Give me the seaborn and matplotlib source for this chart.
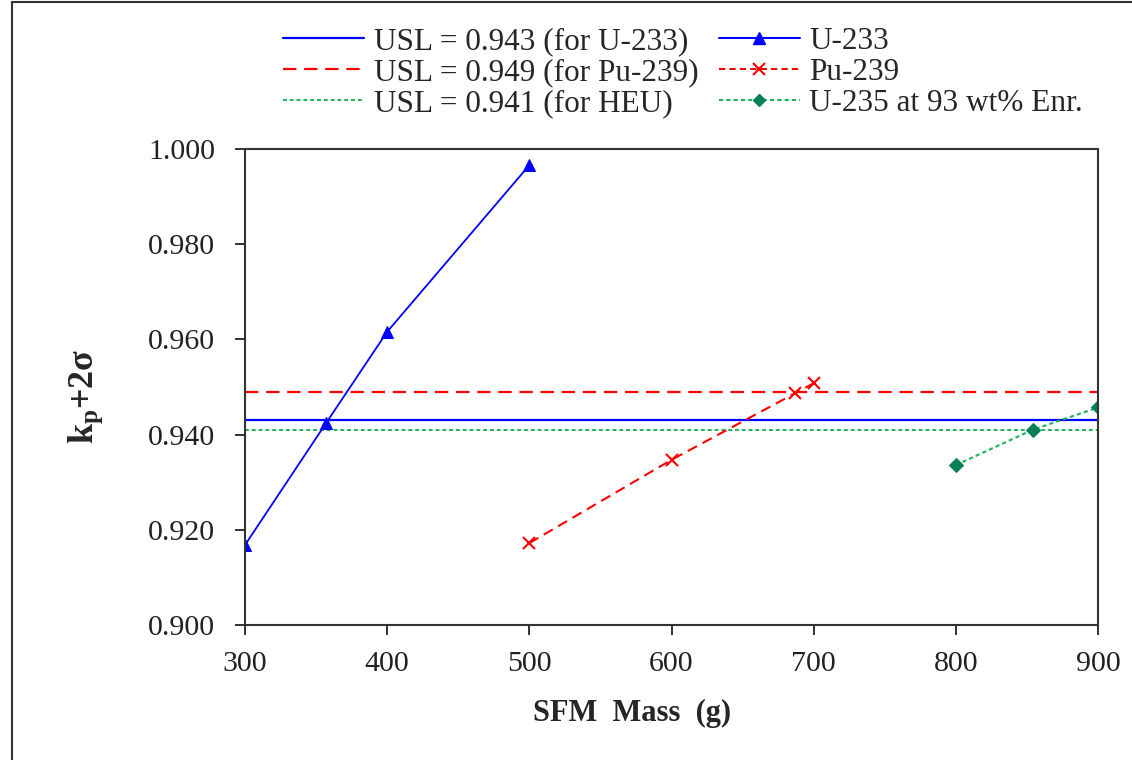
import matplotlib

matplotlib.use("Agg")

import matplotlib.pyplot as plt
import pandas as pd
import seaborn as sns
from matplotlib.lines import Line2D

# data
u233_mass = [300, 357, 400, 500]
u233_k = [0.9168, 0.9424, 0.9616, 0.9966]
pu239_mass = [500, 600, 687, 700]
pu239_k = [0.9172, 0.9347, 0.9487, 0.9508]
u235_mass = [800, 854, 900]
u235_k = [0.9336, 0.9410, 0.9457]

usl_values = [0.943, 0.949, 0.941]
usl_labels = ["USL = 0.943 (for U-233)", "USL = 0.949 (for Pu-239)", "USL = 0.941 (for HEU)"]
series_labels = ["U-233", "Pu-239", "U-235 at 93 wt% Enr."]

x_ticks = [300, 400, 500, 600, 700, 800, 900]
y_ticks = [0.900, 0.920, 0.940, 0.960, 0.980, 1.000]

BLUE = "#0000FF"
RED = "#FF0000"
GREEN_LINE = "#1DB35A"
GREEN_MARK = "#087F5B"

sns.set_theme(style="white")
plt.rcParams["font.family"] = ["Liberation Serif", "DejaVu Serif"]
plt.rcParams["mathtext.fontset"] = "custom"
plt.rcParams["mathtext.rm"] = "Liberation Serif"
plt.rcParams["mathtext.bf"] = "Liberation Serif:bold"

fig = plt.figure(figsize=(11.32, 7.6), dpi=100)
ax = fig.add_axes([245 / 1132, 1 - 625 / 760, (1098 - 245) / 1132, (625 - 149) / 760])

frames = {
    "U-233": pd.DataFrame({"mass": u233_mass, "k": u233_k}),
    "Pu-239": pd.DataFrame({"mass": pu239_mass, "k": pu239_k}),
    "U-235": pd.DataFrame({"mass": u235_mass, "k": u235_k}),
}

# USL reference lines
usl_styles = [
    {"color": BLUE, "linestyle": "-", "linewidth": 1.6},
    {"color": RED, "linestyle": (0, (6, 3.5)), "linewidth": 1.6},
    {"color": GREEN_LINE, "linestyle": (0, (2, 1.5)), "linewidth": 1.4},
]
for value, style in zip(usl_values, usl_styles):
    ax.axhline(value, **style)

sns.lineplot(data=frames["U-233"], x="mass", y="k", ax=ax, color=BLUE, linewidth=1.3,
             marker="^", markersize=9, markeredgecolor=BLUE, markerfacecolor=BLUE)
sns.lineplot(data=frames["Pu-239"], x="mass", y="k", ax=ax, color=RED, linewidth=1.5,
             linestyle=(0, (5, 3)), marker="x", markersize=9, markeredgewidth=1.5,
             markeredgecolor=RED)
sns.lineplot(data=frames["U-235"], x="mass", y="k", ax=ax, color=GREEN_LINE, linewidth=1.5,
             linestyle=(0, (2, 1.5)), marker="D", markersize=7, markeredgecolor=GREEN_MARK,
             markerfacecolor=GREEN_MARK)

ax.set_xlim(300, 900)
ax.set_ylim(0.900, 1.000)
ax.set_xticks(x_ticks)
ax.set_yticks(y_ticks)
ax.set_yticklabels([f"{v:.3f}" for v in y_ticks])
ax.tick_params(axis="both", direction="out", length=7.5, width=1.3, labelsize=21.5,
               colors="#222222", left=True, bottom=True)
ax.tick_params(axis="y", pad=14)
ax.tick_params(axis="x", pad=11)
for spine in ax.spines.values():
    spine.set_color("#333333")
    spine.set_linewidth(1.5)

ax.set_xlabel("SFM  Mass  (g)", fontsize=22, fontweight="bold", labelpad=16)
ax.xaxis.label.set_x((632 - 245) / 853)
ax.set_ylabel(r"$\mathbf{k_{p}}$+2σ", fontsize=26, fontweight="bold", labelpad=31)
ax.yaxis.label.set_y((625 - 396) / 476)

handles = [Line2D([], [], **style) for style in usl_styles]
handles += [
    Line2D([], [], color=BLUE, linewidth=1.5, marker="^", markersize=9),
    Line2D([], [], color=RED, linewidth=1.5, linestyle=(0, (3, 2)), marker="x",
           markersize=9, markeredgewidth=1.5),
    Line2D([], [], color=GREEN_LINE, linewidth=1.5, linestyle=(0, (2, 1.5)), marker="D",
           markersize=6, markerfacecolor=GREEN_MARK, markeredgecolor=GREEN_MARK),
]
fig.legend(handles, usl_labels + series_labels, ncol=2, loc="upper left",
           bbox_to_anchor=(283 / 1132, 1 - 27 / 760), frameon=False, fontsize=22.5,
           borderpad=0, borderaxespad=0, handlelength=2.6, handletextpad=0.3,
           columnspacing=0.65, labelspacing=0.07)

# outer frame of the original figure (only left and top edges visible)
fig.add_artist(Line2D([12 / 1132, 12 / 1132], [0, 1 - 2 / 760], color="#333333",
                      linewidth=1.5, transform=fig.transFigure))
fig.add_artist(Line2D([12 / 1132, 1], [1 - 2 / 760, 1 - 2 / 760], color="#333333",
                      linewidth=1.5, transform=fig.transFigure))

fig.savefig("out.png", dpi=100)
